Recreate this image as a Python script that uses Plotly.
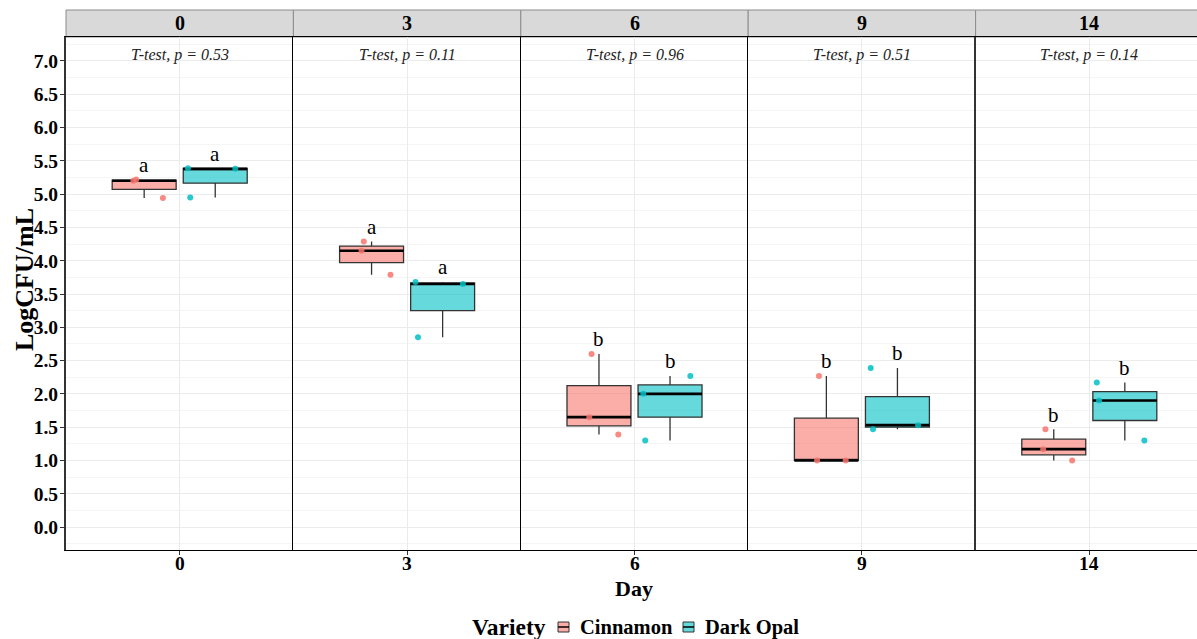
import numpy as np
import plotly.graph_objects as go

# ---------------- data ----------------
days = ["0", "3", "6", "9", "14"]
varieties = ["Cinnamon", "Dark Opal"]
p_values = [0.53, 0.11, 0.96, 0.51, 0.14]

cinnamon = [
    [5.20, 5.22, 4.94],
    [4.29, 4.15, 3.79],
    [2.60, 1.65, 1.39],
    [2.27, 1.00, 1.00],
    [1.47, 1.17, 1.00],
]
dark_opal = [
    [5.39, 5.38, 4.95],
    [3.68, 3.65, 2.85],
    [2.00, 2.27, 1.30],
    [2.39, 1.47, 1.53],
    [2.17, 1.90, 1.30],
]
# horizontal jitter of the raw points (in category units)
jit_cinnamon = [
    [-0.057, -0.042, 0.099],
    [-0.041, -0.053, 0.100],
    [-0.039, -0.051, 0.102],
    [-0.039, -0.049, 0.102],
    [-0.044, -0.056, 0.097],
]
jit_dark_opal = [
    [-0.144, 0.106, -0.132],
    [-0.143, 0.107, -0.130],
    [-0.141, 0.107, -0.131],
    [-0.141, -0.129, 0.109],
    [-0.148, -0.136, 0.103],
]
letters_cinnamon = ["a", "a", "b", "b", "b"]
letters_dark_opal = ["a", "a", "b", "b", "b"]

# ---------------- style ----------------
W, H = 1197, 639
SERIF = "Liberation Serif"
fills = ["rgba(248,118,109,0.6)", "rgba(0,191,196,0.6)"]
pt_cols = ["rgba(248,118,109,0.85)", "rgba(0,191,196,0.85)"]
BOXW = 0.3375
DODGE = 0.1875
PXU = 189.5  # px per category unit

panel_left = 66.0
panel_w = 227.4
top_px, bot_px = 37.0, 550.0
strip_top = 10.0

fig = go.Figure()
layout = dict(
    width=W, height=H, margin=dict(l=0, r=0, t=0, b=0, autoexpand=False),
    paper_bgcolor="white", plot_bgcolor="white",
    showlegend=False, boxmode="overlay",
)

shapes = []
annotations = []
ydom = [1 - bot_px / H, 1 - top_px / H]

for i, day in enumerate(days):
    xname = "x" if i == 0 else f"x{i+1}"
    yname = "y" if i == 0 else f"y{i+1}"
    xl = panel_left + i * panel_w
    xr = min(xl + panel_w, W)
    xr_range = 0.4 + (xr - xl) / PXU
    dom = [xl / W, xr / W]
    xkey = "xaxis" if i == 0 else f"xaxis{i+1}"
    ykey = "yaxis" if i == 0 else f"yaxis{i+1}"
    layout[xkey] = dict(
        domain=dom, anchor=yname, range=[0.4, xr_range], automargin=False,
        tickvals=[1], ticktext=[day], showticklabels=False,
        showgrid=True, gridcolor="#EBEBEB",
        gridwidth=1, zeroline=False, showline=True, linecolor="black",
        linewidth=1, mirror=True, ticks="outside", ticklen=4, tickcolor="#333333",
        fixedrange=True,
    )
    layout[ykey] = dict(
        domain=ydom, anchor=xname, range=[-0.345, 7.36], automargin=False,
        dtick=0.5, tick0=0, tickformat=".1f", showgrid=True, gridcolor="#EBEBEB",
        gridwidth=1, zeroline=False, showline=True,
        linecolor="#333333" if i in (0, 4) else "black",
        linewidth=2 if i in (0, 4) else 1,
        minor=dict(dtick=0.25, showgrid=True, gridcolor="#F5F5F5", gridwidth=1),
        showticklabels=(i == 0), ticks="outside" if i == 0 else "",
        ticklen=4, tickcolor="#333333",
        tickfont=dict(family=SERIF, size=19.5, color="black", weight="bold"),
        ticklabelstandoff=-2, fixedrange=True,
    )
    if i > 0:
        layout[ykey]["matches"] = "y"

    # x tick label (category of this facet)
    annotations.append(dict(xref=xname, yref="paper", x=1, y=1 - 563 / H,
                            text=day, showarrow=False, xanchor="center", yanchor="middle",
                            font=dict(family=SERIF, size=19.5, color="black", weight="bold")))
    # strip
    shapes.append(dict(type="rect", xref="paper", yref="paper",
                       x0=dom[0], x1=dom[1] + (0.01 if i == 4 else 0),
                       y0=1 - top_px / H, y1=1 - strip_top / H,
                       fillcolor="#D9D9D9", line=dict(color="#8C8C8C", width=1),
                       layer="below"))
    annotations.append(dict(xref="paper", yref="paper",
                            x=(xl + 0.6 * PXU) / W, y=1 - (top_px + strip_top) / 2 / H,
                            text=day, showarrow=False, xanchor="center", yanchor="middle",
                            font=dict(family=SERIF, size=20, color="black", weight="bold")))
    # t-test label
    annotations.append(dict(xref=xname, yref=yname, x=1, y=7.09,
                            text=f"<i>T-test, p = {p_values[i]:.2f}</i>", showarrow=False,
                            xanchor="center", yanchor="middle",
                            font=dict(family=SERIF, size=16, color="#222222")))

    groups = [cinnamon[i], dark_opal[i]]
    jits = [jit_cinnamon[i], jit_dark_opal[i]]
    lets = [letters_cinnamon[i], letters_dark_opal[i]]
    for g, (vals, jit, let) in enumerate(zip(groups, jits, lets)):
        pos = 1 + (-DODGE if g == 0 else DODGE)
        q1, med, q3 = np.percentile(vals, [25, 50, 75])
        fig.add_trace(go.Box(
            x=[pos], q1=[q1], median=[med], q3=[q3],
            lowerfence=[min(vals)], upperfence=[max(vals)],
            xaxis=xname, yaxis=yname,
            width=BOXW, whiskerwidth=0, fillcolor=fills[g],
            line=dict(color="#333333", width=1.3),
            name=varieties[g], showlegend=False, hoverinfo="skip",
        ))
        fig.add_trace(go.Scatter(
            x=[pos - BOXW / 2, pos + BOXW / 2], y=[med, med], xaxis=xname, yaxis=yname,
            mode="lines", line=dict(color="black", width=2.6), showlegend=False,
            hoverinfo="skip",
        ))
        fig.add_trace(go.Scatter(
            x=[pos + j for j in jit], y=vals, xaxis=xname, yaxis=yname,
            mode="markers", marker=dict(color=pt_cols[g], size=6),
            showlegend=False, hoverinfo="skip",
        ))
        annotations.append(dict(xref=xname, yref=yname, x=pos, y=max(vals) + 0.22,
                                text=let, showarrow=False, xanchor="center",
                                yanchor="middle",
                                font=dict(family=SERIF, size=21, color="black")))

# axis titles
annotations.append(dict(xref="paper", yref="paper", x=24 / W, y=1 - 280 / H,
                        text="LogCFU/mL", textangle=-90, showarrow=False,
                        xanchor="center", yanchor="middle",
                        font=dict(family=SERIF, size=26, color="black", weight="bold")))
annotations.append(dict(xref="paper", yref="paper", x=634 / W, y=1 - 588 / H,
                        text="Day", showarrow=False, xanchor="center", yanchor="middle",
                        font=dict(family=SERIF, size=22, color="black", weight="bold")))

# manual legend
leg_y = 627
annotations.append(dict(xref="paper", yref="paper", x=509 / W, y=1 - leg_y / H,
                        text="Variety", showarrow=False, xanchor="center", yanchor="middle",
                        font=dict(family=SERIF, size=23.5, color="black", weight="bold")))
leg_icons = [558, 683]
leg_text_x = [626, 752]
for g in range(2):
    x0 = leg_icons[g]
    shapes.append(dict(type="rect", xref="paper", yref="paper",
                       x0=x0 / W, x1=(x0 + 11) / W,
                       y0=1 - (leg_y + 5) / H, y1=1 - (leg_y - 5) / H,
                       fillcolor=fills[g], line=dict(color="#333333", width=1)))
    shapes.append(dict(type="line", xref="paper", yref="paper",
                       x0=x0 / W, x1=(x0 + 11) / W,
                       y0=1 - leg_y / H, y1=1 - leg_y / H,
                       line=dict(color="black", width=1.5)))
    annotations.append(dict(xref="paper", yref="paper", x=leg_text_x[g] / W,
                            y=1 - leg_y / H, text=varieties[g], showarrow=False,
                            xanchor="center", yanchor="middle",
                            font=dict(family=SERIF, size=20.5, color="black", weight="bold")))

layout["shapes"] = shapes
layout["annotations"] = annotations
fig.update_layout(**layout)
fig.write_html("out.html", config={"displayModeBar": False},
               post_script="document.body.style.margin='0px';")
